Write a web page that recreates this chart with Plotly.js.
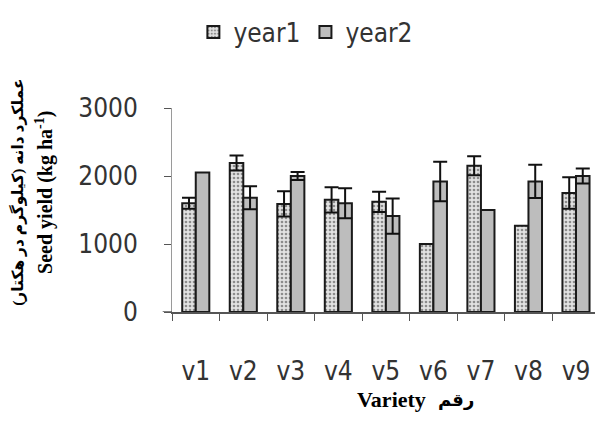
<!DOCTYPE html>
<html>
<head>
<meta charset="utf-8">
<script src="https://cdn.plot.ly/plotly-3.0.1.min.js"></script>
<style>
  html, body { margin: 0; padding: 0; background: #ffffff; }
  #chart { width: 595px; height: 433px; }
</style>
</head>
<body>
<div id="chart"></div>
<script>
// Seed yield per variety over two years (kg/ha), with standard errors
const varieties = ['v1', 'v2', 'v3', 'v4', 'v5', 'v6', 'v7', 'v8', 'v9'];
const year1 = [1600, 2190, 1590, 1650, 1620, 1000, 2150, 1270, 1750];
const year1Err = [80, 110, 185, 185, 150, 0, 140, 0, 230];
const year2 = [2050, 1680, 2000, 1600, 1410, 1920, 1500, 1920, 2000];
const year2Err = [0, 170, 60, 220, 260, 290, 0, 245, 110];
const yTicks = [0, 1000, 2000, 3000];

const tickFont = { family: '"DejaVu Sans Condensed", "Liberation Sans Narrow", sans-serif', size: 26, color: '#333333' };
const serifBold = (size) => ({ family: '"Liberation Serif", "DejaVu Sans", serif', size: size, color: '#000000', weight: 'bold' });

// zero error means no whisker is drawn for that bar
const noZero = arr => arr.map(v => (v ? v : NaN));

const errStyle = { type: 'data', visible: true, color: '#111111', thickness: 2, width: 7 };

const traces = [
  {
    type: 'bar', name: 'year1', x: varieties, y: year1,
    marker: {
      color: '#e2e2e2',
      line: { color: '#1a1a1a', width: 2 },
      pattern: { shape: '.', bgcolor: '#e2e2e2', fgcolor: '#8c8c8c', size: 4, solidity: 0.35, fillmode: 'replace' }
    },
    error_y: Object.assign({ array: noZero(year1Err) }, errStyle)
  },
  {
    type: 'bar', name: 'year2', x: varieties, y: year2,
    marker: { color: '#bdbdbd', line: { color: '#1a1a1a', width: 2 } },
    error_y: Object.assign({ array: noZero(year2Err) }, errStyle)
  }
];

const layout = {
  width: 595, height: 433,
  paper_bgcolor: '#ffffff', plot_bgcolor: '#ffffff',
  margin: { l: 172, r: 0, t: 108, b: 121 },
  barmode: 'group', bargap: 0.43, bargroupgap: 0,
  showlegend: true,
  legend: {
    orientation: 'h', xref: 'container', yref: 'container',
    x: 0.325, y: 0.98, xanchor: 'left', yanchor: 'top',
    font: tickFont, itemsizing: 'constant', bgcolor: 'rgba(0,0,0,0)'
  },
  xaxis: {
    type: 'category', range: [-0.5, 8.4],
    showline: true, linecolor: '#555555', linewidth: 1.5,
    ticks: 'outside', tickson: 'boundaries', ticklen: 7, tickcolor: '#555555',
    tickfont: tickFont, ticklabelstandoff: 35,
    showgrid: false, zeroline: false, fixedrange: true
  },
  yaxis: {
    range: [0, 3000], tickvals: yTicks, ticktext: yTicks.map(String),
    showline: true, linecolor: '#9a9a9a', linewidth: 1,
    ticks: 'outside', ticklen: 7, tickcolor: '#555555',
    tickfont: tickFont, ticklabelstandoff: 21,
    showgrid: false, zeroline: false, fixedrange: true
  },
  shapes: [
    // baseline continues a little to the left of the value axis
    { type: 'line', xref: 'paper', yref: 'y', x0: -0.022, x1: 0, y0: 0, y1: 0,
      line: { color: '#555555', width: 1.5 } }
  ],
  annotations: [
    {
      xref: 'paper', yref: 'paper', x: -0.366, y: 0.585,
      xanchor: 'center', yanchor: 'middle', textangle: -90, showarrow: false,
      text: 'عملکرد دانه (کیلوگرم در هکتار)',
      font: serifBold(15.5)
    },
    {
      xref: 'paper', yref: 'paper', x: -0.302, y: 0.585,
      xanchor: 'center', yanchor: 'middle', textangle: -90, showarrow: false,
      text: 'Seed yield (kg ha<sup>-1</sup>)',
      font: serifBold(20)
    },
    {
      xref: 'paper', yref: 'paper', x: (391 - 172) / 423, y: -0.431,
      xanchor: 'center', yanchor: 'middle', showarrow: false,
      text: 'Variety',
      font: serifBold(22)
    },
    {
      xref: 'paper', yref: 'paper', x: (456 - 172) / 423, y: -0.431,
      xanchor: 'center', yanchor: 'middle', showarrow: false,
      text: 'رقم',
      font: serifBold(18)
    }
  ]
};

Plotly.newPlot('chart', traces, layout, { staticPlot: true, displayModeBar: false });
</script>
</body>
</html>
